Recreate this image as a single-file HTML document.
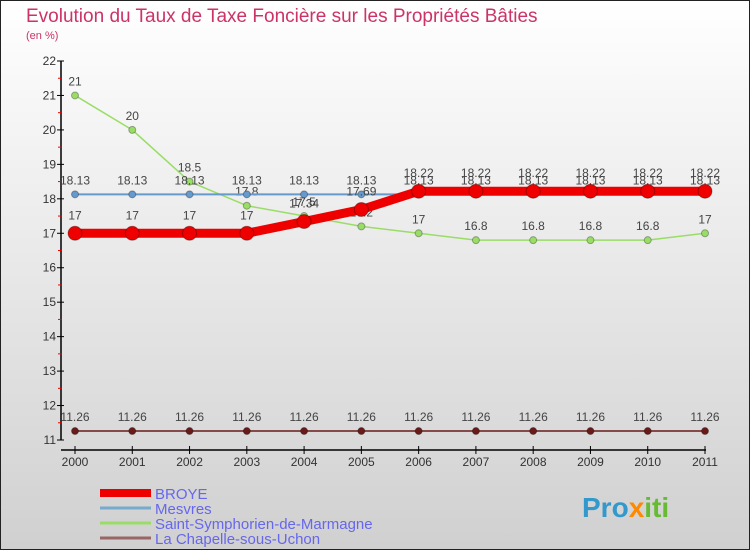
<!DOCTYPE html>
<html><head><meta charset="utf-8"><style>
body{margin:0}
#c{width:750px;height:550px;position:relative;overflow:hidden;font-family:"Liberation Sans",sans-serif}
</style></head><body>
<div id="c">
<svg id="s" width="750" height="550" xmlns="http://www.w3.org/2000/svg">
<defs><linearGradient id="bg" x1="0" y1="0" x2="0" y2="1"><stop offset="0" stop-color="#ffffff"/><stop offset="1" stop-color="#d0d0d0"/></linearGradient></defs>
<rect x="0.5" y="0.5" width="749" height="549" fill="url(#bg)" stroke="#222"/>
<text x="26" y="22" font-size="19" fill="#cc3366">Evolution du Taux de Taxe Foncière sur les Propriétés Bâties</text>
<text x="26" y="39" font-size="11" fill="#cc3366">(en %)</text>
<g id="axes"></g><g id="series"></g><g id="legend"></g>
<text x="582" y="517" font-size="28" font-weight="bold" fill="#3399cc">Pro<tspan fill="#ff8800">x</tspan><tspan fill="#66bb33">iti</tspan></text>
</svg></div>
<script>
const years=[2000,2001,2002,2003,2004,2005,2006,2007,2008,2009,2010,2011];
const broye=[17,17,17,17,17.34,17.69,18.22,18.22,18.22,18.22,18.22,18.22];
const mesvres=[18.13,18.13,18.13,18.13,18.13,18.13,18.13,18.13,18.13,18.13,18.13,18.13];
const ssm=[21,20,18.5,17.8,17.5,17.2,17,16.8,16.8,16.8,16.8,17];
const chapelle=[11.26,11.26,11.26,11.26,11.26,11.26,11.26,11.26,11.26,11.26,11.26,11.26];
const yTicks=[11,12,13,14,15,16,17,18,19,20,21,22];
const NS="http://www.w3.org/2000/svg";
const X=i=>75+i*(630/11);
const Y=v=>440-(v-11)*(379/11);
function mk(tag,attrs,parent,txt){const e=document.createElementNS(NS,tag);for(const k in attrs)e.setAttribute(k,attrs[k]);if(txt!==undefined)e.textContent=txt;parent.appendChild(e);return e;}
const ax=document.getElementById('axes');
let e=mk('line',{x1:61,y1:Y(22),x2:61,y2:Y(11),stroke:'#000','stroke-width':1.5},ax);


e=mk('line',{x1:61,y1:450,x2:706,y2:450,stroke:'#000','stroke-width':1.5},ax);


yTicks.forEach(v=>{
 mk('line',{x1:57,y1:Y(v),x2:64,y2:Y(v),stroke:'#000'},ax);
 if(v<22)mk('line',{x1:58,y1:Y(v+0.5),x2:62,y2:Y(v+0.5),stroke:'#e00'},ax);
 const t=mk('text',{x:56,y:Y(v)+4,'font-size':12,fill:'#333','text-anchor':'end'},ax,v);
 
 
});
years.forEach((yr,i)=>{
 mk('line',{x1:X(i),y1:446,x2:X(i),y2:454,stroke:'#000'},ax);
 const t=mk('text',{x:X(i),y:466,'font-size':12,fill:'#333','text-anchor':'middle'},ax,yr);
 
 
});
const sg=document.getElementById('series');
function series(vals,color,w,r,name,dy){
 const g=mk('g',{},sg);
 
 
 mk('polyline',{points:vals.map((v,i)=>X(i)+','+Y(v)).join(' '),fill:'none',stroke:color,'stroke-width':w},g);
 vals.forEach((v,i)=>{
  const c=mk('circle',{cx:X(i),cy:Y(v),r:r,fill:color,stroke:'rgba(0,0,0,0.3)'},g);
  
  
  mk('text',{x:X(i),y:Y(v)-dy,'font-size':12,fill:'#444','text-anchor':'middle'},g,String(v));
 });
}
series(chapelle,'#6b1a1a',1.5,3.5,'la-chapelle-sous-uchon',10);
series(ssm,'#99dd66',1.5,3.5,'saint-symphorien',10);
series(mesvres,'#6699cc',2,3.5,'mesvres',10);
series(broye,'#ee0000',9,7,'broye',14);
const lg=document.getElementById('legend');
const leg=[['BROYE','#ee0000',8],['Mesvres','#77aacc',3],['Saint-Symphorien-de-Marmagne','#99dd66',3],['La Chapelle-sous-Uchon','#996666',3]];
leg.forEach((l,i)=>{
 const y=493+i*15;
 const g=mk('g',{},lg);
 
 
 mk('line',{x1:100,y1:y,x2:151,y2:y,stroke:l[1],'stroke-width':l[2]},g);
 mk('text',{x:155,y:y+6,'font-size':15,fill:'#6666ee'},g,l[0]);
});
</script>
</body></html>
